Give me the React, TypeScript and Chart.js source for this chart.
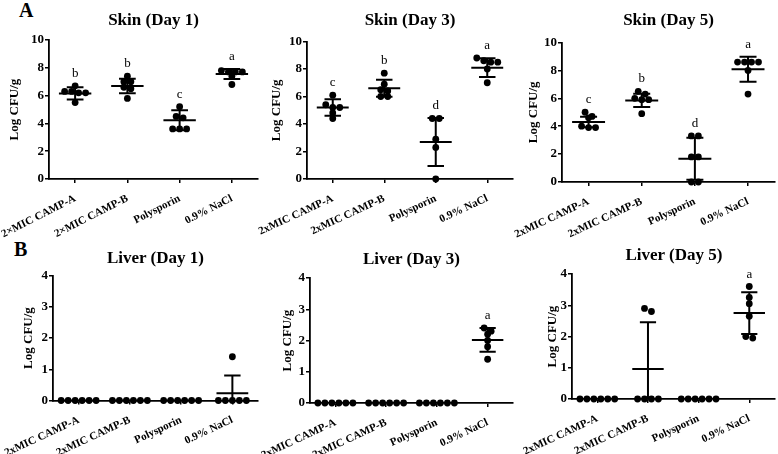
import React, { useEffect, useRef } from "react";
import { Chart, registerables } from "chart.js";

Chart.register(...registerables);

// ---------- data ----------
const categoriesDay1Skin = ["2×MIC CAMP-A", "2×MIC CAMP-B", "Polysporin", "0.9% NaCl"];
const categories = ["2xMIC CAMP-A", "2xMIC CAMP-B", "Polysporin", "0.9% NaCl"];
const yAxisTitle = "Log CFU/g";

const skinTickStep = 2;
const skinMax = 10;
const liverTickStep = 1;
const liverMax = 4;

// Skin Day 1
const skinD1CampA = [6.7, 6.3, 6.3, 6.2, 6.2, 5.5];
const skinD1CampB = [7.4, 7.0, 7.0, 6.6, 6.5, 5.8];
const skinD1Poly = [5.2, 4.5, 4.4, 3.6, 3.6, 3.6];
const skinD1NaCl = [7.8, 7.7, 7.7, 7.7, 7.4, 6.8];
const skinD1Mean = [6.16, 6.69, 4.22, 7.55];
const skinD1SD = [0.44, 0.52, 0.72, 0.36];
const skinD1Letters = ["b", "b", "c", "a"];

// Skin Day 3
const skinD3CampA = [6.1, 5.4, 5.2, 5.2, 4.8, 4.4];
const skinD3CampB = [7.7, 6.9, 6.5, 6.4, 6.0, 6.0];
const skinD3Poly = [4.4, 4.4, 2.9, 2.3, 0.0];
const skinD3NaCl = [8.8, 8.6, 8.5, 8.5, 8.0, 7.0];
const skinD3Mean = [5.2, 6.6, 2.69, 8.1];
const skinD3SD = [0.6, 0.62, 1.74, 0.69];
const skinD3Letters = ["c", "b", "d", "a"];

// Skin Day 5
const skinD5CampA = [5.0, 4.7, 4.6, 4.0, 3.9, 3.9];
const skinD5CampB = [6.5, 6.3, 6.0, 5.9, 5.9, 4.9];
const skinD5Poly = [3.3, 3.3, 1.8, 1.8, 0.0, 0.0];
const skinD5NaCl = [8.6, 8.6, 8.6, 8.6, 8.0, 6.3];
const skinD5Mean = [4.3, 5.85, 1.67, 8.08];
const skinD5SD = [0.38, 0.47, 1.5, 0.9];
const skinD5Letters = ["c", "b", "d", "a"];

// Liver Day 1
const liverD1CampA = [0, 0, 0, 0, 0, 0];
const liverD1CampB = [0, 0, 0, 0, 0, 0];
const liverD1Poly = [0, 0, 0, 0, 0, 0];
const liverD1NaCl = [1.4, 0, 0, 0, 0, 0];
const liverD1Mean = [0, 0, 0, 0.23];
const liverD1SD = [0, 0, 0, 0.57];
const liverD1Letters = ["", "", "", ""];

// Liver Day 3
const liverD3CampA = [0, 0, 0, 0, 0, 0];
const liverD3CampB = [0, 0, 0, 0, 0, 0];
const liverD3Poly = [0, 0, 0, 0, 0, 0];
const liverD3NaCl = [2.4, 2.3, 2.2, 2.0, 1.8, 1.4];
const liverD3Mean = [0, 0, 0, 2.02];
const liverD3SD = [0, 0, 0, 0.38];
const liverD3Letters = ["", "", "", "a"];

// Liver Day 5
const liverD5CampA = [0, 0, 0, 0, 0, 0];
const liverD5CampB = [2.9, 2.8, 0, 0, 0, 0];
const liverD5Poly = [0, 0, 0, 0, 0, 0];
const liverD5NaCl = [3.6, 3.25, 3.05, 2.65, 2.0, 1.95];
const liverD5Mean = [0, 0.96, 0, 2.75];
const liverD5SD = [0, 1.5, 0, 0.67];
const liverD5Letters = ["", "", "", "a"];

// ---------- styling / layout ----------
const SERIF = "'Liberation Serif', 'Times New Roman', serif";
const BLACK = "#000";

type Geo = {
  cx: number; cy: number; cw: number; ch: number;
  L: number; R: number; T: number; B: number;
  yTitleX: number; titleTop: number; rot: number;
};

type PanelProps = {
  title: string;
  cats: string[];
  groups: number[][];
  means: number[];
  sds: number[];
  letters: string[];
  yMax: number;
  yStep: number;
  geo: Geo;
};

function jitter(values: number[], pxPerX: number, pxPerY: number): number[] {
  const idx = values.map((_, i) => i).sort((a, b) => values[b] - values[a]);
  const offs = new Array(values.length).fill(0);
  let i = 0;
  while (i < idx.length) {
    const row = [idx[i]];
    let j = i + 1;
    while (j < idx.length && (values[idx[i]] - values[idx[j]]) * pxPerY < 4.5) {
      row.push(idx[j]);
      j++;
    }
    row.forEach((k, r) => {
      offs[k] = ((r - (row.length - 1) / 2) * 7) / pxPerX;
    });
    i = j;
  }
  return offs;
}

function makeMeanSdPlugin(means: number[], sds: number[], letters: string[], groups: number[][]) {
  return {
    id: "meanSd",
    afterDatasetsDraw(chart: any) {
      const { ctx, chartArea, scales } = chart;
      const x = scales.x;
      const y = scales.y;
      const pxPerUnit = x.getPixelForValue(2) - x.getPixelForValue(1);
      const meanHalf = 0.31 * pxPerUnit;
      const capHalf = 0.16 * pxPerUnit;
      ctx.save();
      ctx.beginPath();
      ctx.rect(chartArea.left - 30, chartArea.top - 40, chartArea.right - chartArea.left + 60, chartArea.bottom - chartArea.top + 40);
      ctx.clip();
      ctx.strokeStyle = BLACK;
      ctx.lineWidth = 2;
      ctx.lineCap = "butt";
      means.forEach((m, i) => {
        const cx = x.getPixelForValue(i + 1);
        const ym = y.getPixelForValue(m);
        const yt = y.getPixelForValue(m + sds[i]);
        const yb = y.getPixelForValue(m - sds[i]);
        ctx.beginPath();
        ctx.moveTo(cx - meanHalf, ym);
        ctx.lineTo(cx + meanHalf, ym);
        if (sds[i] > 0) {
          ctx.moveTo(cx, yt);
          ctx.lineTo(cx, Math.min(yb, chartArea.bottom + 2));
          ctx.moveTo(cx - capHalf, yt);
          ctx.lineTo(cx + capHalf, yt);
          if (yb <= chartArea.bottom) {
            ctx.moveTo(cx - capHalf, yb);
            ctx.lineTo(cx + capHalf, yb);
          }
        }
        ctx.stroke();
      });
      ctx.restore();
      ctx.save();
      ctx.fillStyle = BLACK;
      ctx.font = `13px ${SERIF}`;
      ctx.textAlign = "center";
      ctx.textBaseline = "alphabetic";
      letters.forEach((t, i) => {
        if (!t) return;
        const top = Math.max(Math.max(...groups[i]), means[i] + sds[i]);
        const py = y.getPixelForValue(top) - 9;
        ctx.fillText(t, x.getPixelForValue(i + 1), py);
      });
      ctx.restore();
    },
  };
}

function Panel(props: PanelProps) {
  const { title, cats, groups, means, sds, letters, yMax, yStep, geo } = props;
  const ref = useRef<HTMLCanvasElement | null>(null);

  useEffect(() => {
    if (!ref.current) return;
    const pxPerX = (geo.R - geo.L) / 4;
    const pxPerY = (geo.B - geo.T) / yMax;
    const points: { x: number; y: number }[] = [];
    groups.forEach((vals, g) => {
      const offs = jitter(vals, pxPerX, pxPerY);
      vals.forEach((v, k) => points.push({ x: g + 1 + offs[k], y: v }));
    });
    const xFont = { family: SERIF, size: 11, weight: "bold" as const };
    const yFont = { family: SERIF, size: 13, weight: "bold" as const };
    const chart = new Chart(ref.current, {
      type: "scatter",
      data: {
        datasets: [
          {
            data: points,
            pointRadius: 3.4,
            pointHoverRadius: 3.4,
            backgroundColor: BLACK,
            borderWidth: 0,
            clip: false as any,
          },
        ],
      },
      options: {
        animation: false,
        responsive: false,
        maintainAspectRatio: false,
        events: [],
        layout: {
          padding: {
            left: 0,
            right: geo.cw - (geo.R - geo.cx),
            top: geo.T - geo.cy,
            bottom: 0,
          },
        },
        plugins: {
          legend: { display: false },
          tooltip: { enabled: false },
          title: { display: false },
        },
        scales: {
          x: {
            type: "linear",
            min: 0.5,
            max: 4.5,
            afterBuildTicks: (s: any) => {
              s.ticks = cats.map((_, i) => ({ value: i + 1 }));
            },
            afterFit: (s: any) => {
              s.height = geo.ch - (geo.B - geo.cy);
              s.paddingLeft = 0;
              s.paddingRight = 0;
            },
            ticks: {
              autoSkip: false,
              minRotation: geo.rot,
              maxRotation: geo.rot,
              padding: 9,
              color: BLACK,
              font: xFont,
              callback: (v: any) => cats[Math.round(Number(v)) - 1] ?? "",
            },
            grid: {
              drawOnChartArea: false,
              drawTicks: true,
              tickLength: 4,
              color: BLACK,
              lineWidth: 1.5,
            },
            border: { display: true, color: BLACK, width: 1.8 },
          },
          y: {
            type: "linear",
            min: 0,
            max: yMax,
            afterFit: (s: any) => {
              s.width = geo.L - geo.cx;
              s.paddingTop = 0;
              s.paddingBottom = 0;
            },
            ticks: {
              stepSize: yStep,
              padding: 1,
              color: BLACK,
              font: yFont,
            },
            grid: {
              drawOnChartArea: false,
              drawTicks: true,
              tickLength: 4,
              color: BLACK,
              lineWidth: 1.5,
            },
            border: { display: true, color: BLACK, width: 1.8 },
            title: {
              display: true,
              text: yAxisTitle,
              color: BLACK,
              font: { family: SERIF, size: 13, weight: "bold", lineHeight: 1.2 },
              padding: { top: geo.yTitleX - geo.cx - 7.8, bottom: 0 },
            },
          },
        },
      },
      plugins: [makeMeanSdPlugin(means, sds, letters, groups)],
    });
    return () => chart.destroy();
  }, []);

  const centerX = (geo.L + geo.R) / 2;
  return (
    <>
      <canvas
        ref={ref}
        width={geo.cw}
        height={geo.ch}
        style={{ position: "absolute", left: geo.cx, top: geo.cy, width: geo.cw, height: geo.ch }}
      />
      <div
        style={{
          position: "absolute",
          left: centerX - 100,
          top: geo.titleTop,
          width: 200,
          textAlign: "center",
          font: `bold 17px ${SERIF}`,
          lineHeight: "17px",
          color: BLACK,
          whiteSpace: "nowrap",
        }}
      >
        {title}
      </div>
    </>
  );
}

export default function App() {
  const letterStyle: React.CSSProperties = {
    position: "absolute",
    font: `bold 20px ${SERIF}`,
    lineHeight: "20px",
    color: BLACK,
  };
  return (
    <div style={{ position: "fixed", left: 0, top: 0, width: 778, height: 454, background: "#fff", overflow: "hidden" }}>
      <div style={{ ...letterStyle, left: 19, top: 0 }}>A</div>
      <div style={{ ...letterStyle, left: 14, top: 239 }}>B</div>
      <Panel
        title="Skin (Day 1)"
        cats={categoriesDay1Skin}
        groups={[skinD1CampA, skinD1CampB, skinD1Poly, skinD1NaCl]}
        means={skinD1Mean}
        sds={skinD1SD}
        letters={skinD1Letters}
        yMax={skinMax}
        yStep={skinTickStep}
        geo={{ cx: 0, cy: 25, cw: 262, ch: 222, L: 49, R: 258, T: 40, B: 179, yTitleX: 15, titleTop: 11, rot: 27 }}
      />
      <Panel
        title="Skin (Day 3)"
        cats={categories}
        groups={[skinD3CampA, skinD3CampB, skinD3Poly, skinD3NaCl]}
        means={skinD3Mean}
        sds={skinD3SD}
        letters={skinD3Letters}
        yMax={skinMax}
        yStep={skinTickStep}
        geo={{ cx: 255, cy: 25, cw: 262, ch: 222, L: 307, R: 513, T: 41.5, B: 179, yTitleX: 277, titleTop: 11, rot: 25 }}
      />
      <Panel
        title="Skin (Day 5)"
        cats={categories}
        groups={[skinD5CampA, skinD5CampB, skinD5Poly, skinD5NaCl]}
        means={skinD5Mean}
        sds={skinD5SD}
        letters={skinD5Letters}
        yMax={skinMax}
        yStep={skinTickStep}
        geo={{ cx: 510, cy: 25, cw: 268, ch: 222, L: 562, R: 775, T: 42.5, B: 182, yTitleX: 534, titleTop: 11, rot: 25 }}
      />
      <Panel
        title="Liver (Day 1)"
        cats={categories}
        groups={[liverD1CampA, liverD1CampB, liverD1Poly, liverD1NaCl]}
        means={liverD1Mean}
        sds={liverD1SD}
        letters={liverD1Letters}
        yMax={liverMax}
        yStep={liverTickStep}
        geo={{ cx: 0, cy: 262, cw: 262, ch: 192, L: 53, R: 258, T: 275.5, B: 400.5, yTitleX: 29, titleTop: 249, rot: 25 }}
      />
      <Panel
        title="Liver (Day 3)"
        cats={categories}
        groups={[liverD3CampA, liverD3CampB, liverD3Poly, liverD3NaCl]}
        means={liverD3Mean}
        sds={liverD3SD}
        letters={liverD3Letters}
        yMax={liverMax}
        yStep={liverTickStep}
        geo={{ cx: 255, cy: 262, cw: 262, ch: 192, L: 310, R: 513, T: 278, B: 403, yTitleX: 288, titleTop: 250, rot: 25 }}
      />
      <Panel
        title="Liver (Day 5)"
        cats={categories}
        groups={[liverD5CampA, liverD5CampB, liverD5Poly, liverD5NaCl]}
        means={liverD5Mean}
        sds={liverD5SD}
        letters={liverD5Letters}
        yMax={liverMax}
        yStep={liverTickStep}
        geo={{ cx: 510, cy: 262, cw: 268, ch: 192, L: 572, R: 776, T: 274, B: 399, yTitleX: 553, titleTop: 246, rot: 25 }}
      />
    </div>
  );
}
